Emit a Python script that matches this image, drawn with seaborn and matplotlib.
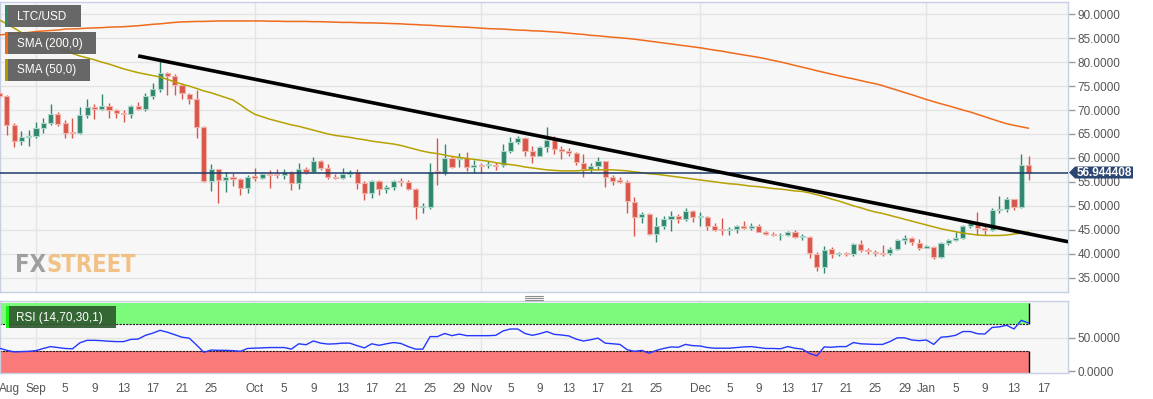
import pandas as pd
import matplotlib
matplotlib.use("Agg")
import matplotlib.pyplot as plt
import matplotlib.dates as mdates
from matplotlib.patches import Rectangle, Polygon
from matplotlib.lines import Line2D
import seaborn as sns

# ---- data (daily candles, 2019-08-27 .. 2020-01-15) ----
start_date = "2019-08-27"

opens = [73.6, 72.9, 66.9, 63.6, 64.4, 64.5, 66.2, 67.3, 69.2, 67.2,
         65.4, 65.3, 69.0, 70.6, 70.2, 70.9, 70.0, 69.4, 69.2, 70.8,
         70.3, 72.9, 74.4, 77.8, 77.2, 75.3, 73.4, 72.4, 66.5, 55.2,
         57.6, 55.3, 56.0, 55.6, 53.8, 56.2, 55.9, 56.7, 56.6, 56.5,
         57.0, 54.7, 57.6, 57.0, 59.4, 57.8, 56.1, 55.9, 56.6, 57.0,
         54.7, 52.6, 55.1, 53.5, 54.0, 55.1, 54.9, 53.5, 49.7, 49.8,
         57.2, 56.8, 60.0, 59.7, 59.9, 58.2, 58.6, 58.5, 58.6, 58.6,
         61.5, 63.3, 64.2, 61.5, 60.4, 62.2, 63.8, 61.9, 61.5, 61.1,
         59.0, 57.7, 58.3, 59.3, 56.0, 55.3, 55.0, 50.8, 47.6, 48.3,
         44.1, 45.7, 47.2, 47.9, 47.2, 49.0, 47.6, 47.7, 45.8, 45.1,
         45.0, 45.2, 45.7, 45.4, 45.8, 44.6, 44.2, 43.8, 43.9, 44.6,
         43.5, 43.5, 40.0, 37.2, 41.0, 39.9, 40.2, 39.9, 42.0, 40.8,
         40.3, 40.1, 40.1, 41.0, 42.8, 43.2, 42.2, 41.2, 41.5, 39.4,
         42.2, 42.8, 43.3, 45.8, 46.2, 45.4, 44.9, 49.2, 49.3, 51.5,
         49.7, 58.5]
highs = [74.2, 73.2, 67.2, 65.6, 65.8, 67.6, 68.4, 71.2, 69.5, 67.9,
         68.4, 70.7, 72.3, 71.2, 73.3, 71.4, 70.3, 70.0, 71.0, 71.6,
         73.5, 75.6, 80.2, 78.0, 77.6, 75.7, 73.5, 74.2, 66.7, 58.75,
         57.7, 57.0, 56.8, 55.8, 56.5, 57.8, 56.8, 57.5, 57.6, 57.6,
         57.2, 58.9, 58.2, 60.1, 59.6, 58.7, 56.7, 57.8, 57.4, 57.6,
         55.1, 55.4, 55.4, 54.4, 55.4, 55.9, 55.3, 53.7, 50.6, 58.9,
         64.1, 63.0, 60.4, 61.0, 61.3, 59.6, 59.0, 59.4, 59.2, 62.9,
         64.3, 64.6, 64.4, 62.4, 62.4, 66.4, 64.6, 62.4, 62.0, 61.3,
         60.8, 59.0, 60.1, 59.4, 56.5, 56.0, 55.4, 51.8, 48.7, 48.5,
         47.6, 47.8, 49.0, 48.3, 49.5, 49.2, 48.8, 47.9, 46.4, 47.4,
         45.6, 46.0, 46.9, 46.4, 46.2, 44.8, 44.5, 44.3, 44.8, 44.9,
         44.1, 43.6, 40.3, 41.7, 41.3, 40.4, 40.3, 42.2, 42.9, 41.2,
         40.8, 41.8, 41.3, 43.1, 43.9, 43.5, 43.1, 41.8, 41.7, 42.5,
         43.1, 44.6, 46.0, 46.9, 48.75, 45.8, 49.5, 52.1, 51.8, 51.5,
         60.8, 60.4]
lows = [72.5, 64.8, 62.2, 62.7, 62.4, 64.1, 65.1, 66.9, 66.7, 64.2,
        64.1, 64.9, 68.3, 68.1, 70.0, 68.4, 68.4, 67.4, 68.4, 70.1,
        69.8, 72.4, 73.8, 73.1, 73.1, 72.3, 71.2, 64.1, 55.0, 53.1,
        50.6, 52.8, 54.2, 52.3, 52.6, 55.2, 55.6, 53.8, 55.8, 55.7,
        53.3, 53.5, 56.7, 56.8, 57.5, 55.6, 55.6, 55.6, 56.1, 53.5,
        51.3, 51.6, 52.3, 52.6, 53.3, 54.2, 53.3, 47.2, 48.6, 49.3,
        54.4, 56.5, 57.8, 58.2, 57.2, 56.8, 56.8, 57.9, 57.5, 58.2,
        61.0, 62.9, 60.3, 58.9, 60.3, 61.2, 60.8, 59.7, 60.3, 58.5,
        56.1, 57.0, 57.5, 54.0, 54.3, 54.7, 48.5, 43.6, 46.5, 43.8,
        42.4, 45.1, 44.8, 46.4, 46.9, 46.7, 45.7, 45.0, 44.7, 44.0,
        43.9, 44.3, 45.1, 45.0, 44.5, 43.8, 43.6, 42.9, 43.6, 43.3,
        42.9, 39.1, 36.3, 36.0, 39.1, 39.6, 39.6, 39.6, 40.3, 40.0,
        39.6, 39.6, 39.8, 40.8, 42.1, 41.8, 40.8, 41.1, 38.8, 39.0,
        41.9, 42.6, 43.1, 45.3, 44.0, 43.9, 44.7, 48.6, 48.8, 49.2,
        49.5, 55.4]
closes = [72.9, 66.9, 63.5, 64.4, 64.6, 66.2, 67.3, 69.2, 67.0, 65.3,
          65.3, 69.0, 70.6, 70.2, 70.9, 70.0, 69.4, 69.2, 70.8, 70.3,
          72.9, 74.4, 77.8, 77.2, 75.3, 73.5, 72.4, 66.5, 55.1, 57.6,
          55.3, 56.0, 55.6, 53.8, 56.1, 55.9, 56.6, 56.5, 56.4, 57.0,
          54.7, 57.6, 57.0, 59.4, 57.8, 56.1, 55.9, 56.6, 57.0, 54.7,
          52.6, 55.1, 53.5, 54.0, 55.1, 54.9, 53.5, 49.7, 49.9, 57.0,
          56.8, 60.0, 58.0, 60.0, 58.2, 58.5, 58.4, 58.7, 58.4, 61.5,
          63.3, 64.2, 61.5, 60.4, 62.2, 63.8, 61.9, 61.5, 61.0, 59.1,
          57.7, 58.3, 59.3, 56.0, 55.2, 55.0, 50.9, 47.6, 48.3, 44.1,
          45.7, 47.2, 47.9, 47.2, 49.0, 47.6, 47.8, 45.8, 45.0, 45.0,
          45.2, 45.7, 45.4, 45.8, 44.6, 44.2, 43.8, 44.0, 44.6, 43.5,
          43.6, 40.1, 37.2, 40.8, 39.9, 40.1, 39.9, 42.0, 40.8, 40.5,
          40.1, 39.9, 41.0, 42.8, 43.2, 42.4, 41.1, 41.6, 39.4, 42.2,
          42.8, 43.3, 45.8, 46.5, 45.3, 44.9, 49.2, 49.4, 51.5, 49.7,
          58.5, 56.944408]

sma200 = [85.7, 85.8, 86.0, 86.1, 86.2, 86.4, 86.5, 86.6, 86.7, 86.9,
          86.95, 87.0, 87.1, 87.15, 87.2, 87.3, 87.35, 87.4, 87.5, 87.6,
          87.75, 87.9, 88.0, 88.15, 88.3, 88.4, 88.45, 88.5, 88.5, 88.55,
          88.6, 88.6, 88.6, 88.6, 88.6, 88.6, 88.6, 88.55, 88.55, 88.5,
          88.5, 88.5, 88.5, 88.45, 88.45, 88.4, 88.35, 88.3, 88.3, 88.25,
          88.2, 88.2, 88.15, 88.1, 88.05, 88.0, 87.9, 87.85, 87.75, 87.7,
          87.6, 87.5, 87.45, 87.35, 87.3, 87.2, 87.1, 87.0, 86.95, 86.9,
          86.8, 86.7, 86.65, 86.55, 86.5, 86.4, 86.3, 86.2, 86.05, 85.9,
          85.8, 85.6, 85.5, 85.35, 85.2, 85.1, 84.95, 84.8, 84.6, 84.4,
          84.2, 84.0, 83.8, 83.6, 83.4, 83.2, 83.0, 82.75, 82.5, 82.3,
          82.0, 81.75, 81.5, 81.25, 81.0, 80.7, 80.35, 80.05, 79.7, 79.3,
          78.95, 78.6, 78.2, 77.85, 77.5, 77.15, 76.8, 76.5, 76.15, 75.8,
          75.5, 75.1, 74.6, 74.15, 73.65, 73.2, 72.7, 72.2, 71.75, 71.3,
          70.9, 70.45, 70.0, 69.6, 69.1, 68.6, 68.1, 67.6, 67.15, 66.8,
          66.5, 66.2]
sma50 = [88.8, 88.0, 87.1, 86.2, 85.6, 85.0, 84.4, 83.8, 83.2, 82.4,
         81.8, 81.3, 80.9, 80.5, 80.0, 79.6, 79.1, 78.6, 78.2, 77.8,
         77.5, 77.2, 76.9, 76.4, 75.9, 75.4, 75.0, 74.5, 74.0, 73.6,
         73.1, 72.6, 72.1, 71.1, 70.0, 69.1, 68.6, 68.1, 67.7, 67.3,
         66.9, 66.6, 66.2, 65.8, 65.4, 65.0, 64.7, 64.5, 64.3, 64.0,
         63.8, 63.5, 63.3, 63.1, 62.9, 62.6, 62.2, 61.8, 61.4, 61.1,
         60.9, 60.6, 60.3, 60.1, 59.9, 59.7, 59.5, 59.3, 59.0, 58.8,
         58.6, 58.4, 58.1, 57.9, 57.7, 57.5, 57.4, 57.3, 57.3, 57.3,
         57.4, 57.5, 57.5, 57.5, 57.5, 57.4, 57.3, 57.1, 56.9, 56.7,
         56.6, 56.4, 56.2, 56.0, 55.8, 55.6, 55.4, 55.2, 55.0, 54.8,
         54.6, 54.5, 54.3, 54.1, 54.0, 53.8, 53.6, 53.5, 53.3, 53.1,
         53.0, 52.7, 52.3, 51.9, 51.4, 51.0, 50.5, 50.0, 49.6, 49.1,
         48.7, 48.4, 48.0, 47.6, 47.2, 46.8, 46.4, 46.0, 45.6, 45.2,
         44.9, 44.6, 44.3, 44.1, 43.9, 43.8, 43.8, 43.8, 43.9, 44.1,
         44.3, 44.5]
rsi = [34.2, 31.0, 28.6, 29.0, 29.5, 30.5, 33.8, 36.6, 35.2, 33.8,
       33.3, 42.2, 46.0, 46.0, 45.5, 44.6, 44.1, 44.1, 47.4, 47.9,
       53.5, 56.8, 61.0, 58.2, 54.5, 50.7, 49.3, 39.0, 28.1, 31.4,
       31.0, 31.0, 30.5, 29.5, 33.8, 34.2, 34.7, 35.2, 35.2, 35.2,
       32.8, 40.8, 39.4, 45.0, 41.8, 40.4, 40.8, 41.8, 41.8, 38.0,
       34.7, 40.8, 38.5, 40.8, 42.7, 41.3, 36.6, 32.8, 32.8, 51.6,
       51.6, 56.3, 53.0, 55.4, 53.0, 53.0, 53.0, 53.0, 53.5, 60.1,
       63.0, 63.0, 56.3, 53.5, 55.9, 59.2, 55.0, 54.0, 52.6, 47.9,
       45.0, 46.9, 49.3, 41.8, 40.8, 39.9, 31.9, 29.5, 30.9, 26.7,
       30.9, 33.8, 36.1, 35.6, 39.9, 38.0, 37.5, 35.2, 34.2, 34.2,
       34.2, 35.2, 36.1, 36.6, 35.2, 33.8, 33.8, 33.3, 36.6, 34.2,
       32.8, 26.2, 22.9, 36.1, 35.6, 36.6, 36.6, 42.7, 40.8, 40.4,
       39.9, 39.9, 44.1, 49.8, 49.8, 46.5, 45.5, 46.5, 39.9, 50.7,
       51.6, 53.5, 59.2, 59.2, 55.9, 55.4, 65.3, 66.2, 68.6, 63.0,
       76.0, 72.0]

trend_dates = ["2019-09-15 00:00", "2020-01-20 10:00"]
trend_values = [81.3, 42.5]
last_price = 56.944408

price_ticks = [35, 40, 45, 50, 55, 60, 65, 70, 75, 80, 85, 90]
rsi_ticks = [0, 50]
month_lines = ["2019-09-01", "2019-10-01", "2019-11-01", "2019-12-01", "2020-01-01"]
tick_dates = ["2019-08-28 10:00", "2019-09-01 00:00", "2019-09-05 00:00", "2019-09-09 00:00",
              "2019-09-13 00:00", "2019-09-17 00:00", "2019-09-21 00:00", "2019-09-25 00:00",
              "2019-10-01 00:00", "2019-10-05 00:00", "2019-10-09 00:00", "2019-10-13 00:00",
              "2019-10-17 00:00", "2019-10-21 00:00", "2019-10-25 00:00", "2019-10-29 00:00",
              "2019-11-01 00:00", "2019-11-05 00:00", "2019-11-09 00:00", "2019-11-13 00:00",
              "2019-11-17 00:00", "2019-11-21 00:00", "2019-11-25 00:00", "2019-12-01 00:00",
              "2019-12-05 00:00", "2019-12-09 00:00", "2019-12-13 00:00", "2019-12-17 00:00",
              "2019-12-21 00:00", "2019-12-25 00:00", "2019-12-29 00:00", "2020-01-01 00:00",
              "2020-01-05 00:00", "2020-01-09 00:00", "2020-01-13 00:00", "2020-01-17 00:00"]
tick_labels = ["Aug", "Sep", "5", "9", "13", "17", "21", "25", "Oct", "5", "9", "13",
               "17", "21", "25", "29", "Nov", "5", "9", "13", "17", "21", "25", "Dec",
               "5", "9", "13", "17", "21", "25", "29", "Jan", "5", "9", "13", "17"]

df = pd.DataFrame({
    "date": pd.date_range(start_date, periods=len(closes), freq="D"),
    "open": opens, "high": highs, "low": lows, "close": closes,
    "sma200": sma200, "sma50": sma50, "rsi": rsi,
})

# ---- style ----
sns.set_style("whitegrid")
plt.rcParams["font.family"] = ["Liberation Sans", "DejaVu Sans"]

W, H = 1153, 399
BG = "#f7f7f7"
GRID = "#e4e4e4"
BORDER = "#c8cfe2"
TXT = "#555555"
UP, DOWN = "#30866e", "#d9564a"
UP_EDGE, DOWN_EDGE = "#a9d6c7", "#f2b3ab"

fig = plt.figure(figsize=(W / 100, H / 100), dpi=100, facecolor="white")
ax1 = fig.add_axes([0, 1 - 292 / H, 1068 / W, 290 / H])
ax2 = fig.add_axes([0, 1 - 373 / H, 1068 / W, 72 / H])

x0 = mdates.date2num(pd.Timestamp(start_date))
for ax in (ax1, ax2):
    ax.set_facecolor(BG)
    ax.grid(False)
    for d in month_lines:
        ax.axvline(pd.Timestamp(d), color=GRID, lw=1, zorder=0)
    for s in ax.spines.values():
        s.set_color(BORDER)
        s.set_linewidth(1)

# ---- price panel ----
for v in price_ticks:
    ax1.axhline(v, color=GRID, lw=1, zorder=0)

xs = mdates.date2num(df["date"])
up = (df["close"] >= df["open"]).to_numpy()
body_lo = df[["open", "close"]].min(axis=1).to_numpy()
body_h = (df["close"] - df["open"]).abs().clip(lower=0.15).to_numpy()
lo = df["low"].to_numpy()
hi = df["high"].to_numpy()
ax1.vlines(xs[up], lo[up], hi[up], color=UP, lw=1, zorder=3)
ax1.vlines(xs[~up], lo[~up], hi[~up], color=DOWN, lw=1, zorder=3)
ax1.bar(xs[up], body_h[up], bottom=body_lo[up], width=0.7, color=UP,
        edgecolor=UP_EDGE, linewidth=0.8, zorder=3)
ax1.bar(xs[~up], body_h[~up], bottom=body_lo[~up], width=0.7, color=DOWN,
        edgecolor=DOWN_EDGE, linewidth=0.8, zorder=3)

sns.lineplot(data=df, x="date", y="sma200", ax=ax1, color="#f06a1c", lw=1.1, zorder=4)
sns.lineplot(data=df, x="date", y="sma50", ax=ax1, color="#b5a200", lw=1.1, zorder=4)
ax1.plot(pd.to_datetime(trend_dates), trend_values, color="black", lw=2.6,
         solid_capstyle="butt", zorder=5)
ax1.axhline(last_price, color="#1e3a6b", lw=1.1, zorder=4)

ax1.set_ylim(32.0, 92.56)
ax1.set_xlim(x0 + 0.07, x0 + 146.4)
ax1.set_xlabel("")
ax1.set_ylabel("")
ax1.set_xticks([])
ax1.yaxis.tick_right()
ax1.set_yticks(price_ticks)
ax1.set_yticklabels([f"{v:.4f}" for v in price_ticks])
ax1.tick_params(axis="y", length=5, width=1, color="#9a9a9a", labelcolor=TXT,
                labelsize=8.5, pad=2)

# ---- RSI panel ----
last_x = pd.Timestamp(df["date"].iloc[-1])
first_x = pd.Timestamp(df["date"].iloc[0]) - pd.Timedelta(days=2)
ax2.axhline(50, color=GRID, lw=1, zorder=0)
ax2.fill_between([first_x, last_x], 70, 101.5, color="#7cfa7c", lw=0, zorder=1)
ax2.fill_between([first_x, last_x], -3, 30, color="#fa7a7a", lw=0, zorder=1)
ax2.hlines([70, 30], first_x, last_x, colors="#1a1a1a", lw=0.8,
           linestyles=(0, (2, 1)), zorder=2)
ax2.vlines(last_x, 70, 101.5, color="black", lw=1, zorder=2)
ax2.vlines(last_x, -3, 30, color="black", lw=1, zorder=2)
sns.lineplot(data=df, x="date", y="rsi", ax=ax2, color="#2438ff", lw=1, zorder=3)

ax2.set_ylim(-3, 105)
ax2.set_xlim(x0 + 0.07, x0 + 146.4)
ax2.set_xlabel("")
ax2.set_ylabel("")
ax2.yaxis.tick_right()
ax2.set_yticks(rsi_ticks)
ax2.set_yticklabels([f"{v:.4f}" for v in rsi_ticks])
ax2.set_xticks(pd.to_datetime(tick_dates))
ax2.set_xticklabels(tick_labels)
ax2.tick_params(axis="y", length=5, width=1, color="#9a9a9a", labelcolor=TXT,
                labelsize=8.5, pad=2)
ax2.tick_params(axis="x", length=4, width=1, color="#9a9a9a", labelcolor=TXT,
                labelsize=8.5, pad=3)


# ---- overlays in pixel coordinates ----
def px(x, y):
    return x / W, 1 - y / H


def box(x_a, y_a, x_b, y_b, color, alpha=1.0):
    fig.add_artist(Rectangle(px(x_a, y_b), (x_b - x_a) / W, (y_b - y_a) / H,
                             transform=fig.transFigure, facecolor=color,
                             edgecolor="none", alpha=alpha, zorder=5))


legend = [("LTC/USD", "#2f8a70", 5, 27, 81), ("SMA (200,0)", "#f06a1c", 32, 54, 96),
          ("SMA (50,0)", "#b09a00", 59, 81, 90)]
for label, strip, ya, yb, xb in legend:
    box(5, ya, xb, yb, "#5c5c5c", 0.93)
    box(5, ya, 8, yb, strip)
    fig.text(*px(17, (ya + yb) / 2 + 0.5), label, color="white", fontsize=8.5,
             va="center", ha="left", zorder=6)

box(5.5, 306, 116, 328, "#2f5a2f", 0.92)
box(5.5, 306, 8.5, 328, "#19f019")
fig.text(*px(16, 317.5), "RSI (14,70,30,1)", color="white", fontsize=8.5,
         va="center", ha="left", zorder=6)

# current price tag
tag = [px(1069, 172.5), px(1075, 166.5), px(1133, 166.5), px(1133, 178.5), px(1075, 178.5)]
fig.add_artist(Polygon(tag, closed=True, transform=fig.transFigure,
                       facecolor="#2b4670", edgecolor="none", zorder=5))
fig.text(*px(1104, 172.8), f"{last_price:.6f}", color="white", fontsize=8.5,
         fontweight="bold", va="center", ha="center", zorder=6)

# watermark: "FX" grey, "STREET" placed right after it
wm = dict(fontsize=17, fontweight="bold", fontstretch="condensed",
          family=["DejaVu Sans"], va="baseline", ha="left", zorder=6)
fx = fig.text(*px(15, 272), "FX", color="#8a8a8a", alpha=0.8, **wm)
fig.canvas.draw()
fx_end = fx.get_window_extent().x1
fig.text(fx_end / W, 1 - 272 / H, "STREET", color="#f0b060", alpha=0.75, **wm)

# panel separator handle
for yy in (295.5, 297.5, 299.5):
    fig.add_artist(Line2D([525 / W, 543 / W], [1 - yy / H] * 2, transform=fig.transFigure,
                          color="#8c8c8c", lw=0.8, zorder=6))

fig.savefig("out.png", dpi=100, facecolor="white")
